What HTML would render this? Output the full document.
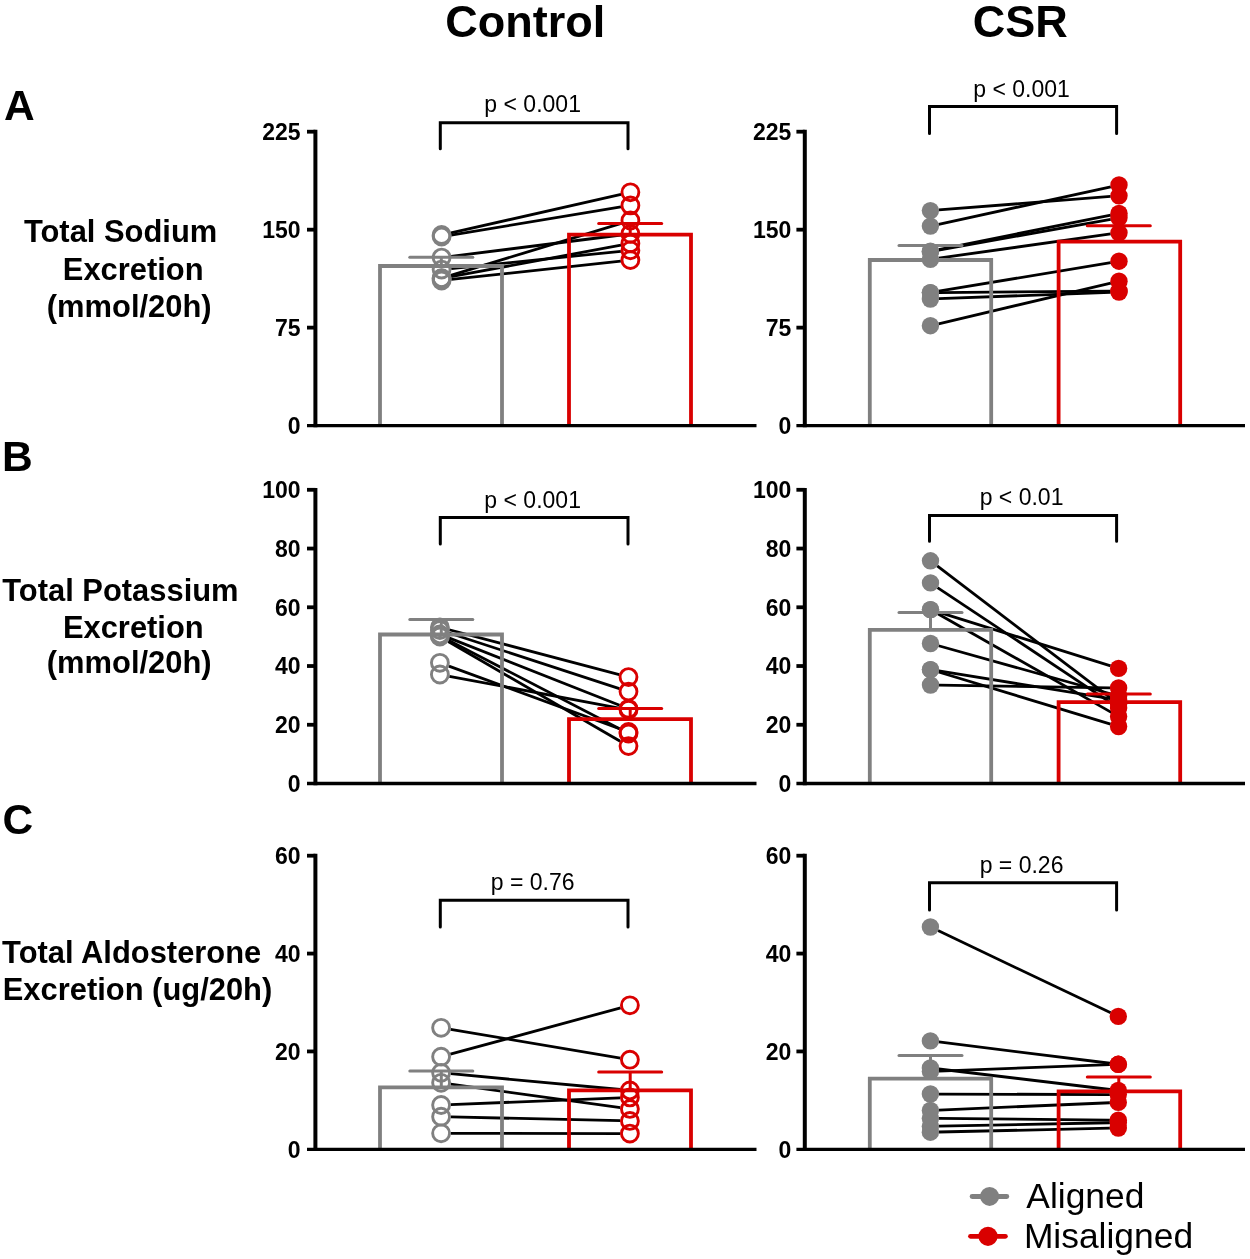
<!DOCTYPE html>
<html><head><meta charset="utf-8"><title>Excretion</title>
<style>
html,body{margin:0;padding:0;background:#fff;}
body{width:1250px;height:1259px;overflow:hidden;}
svg{display:block;font-family:"Liberation Sans", sans-serif;will-change:transform;}
</style></head>
<body>
<svg width="1250" height="1259" viewBox="0 0 1250 1259">
<rect width="1250" height="1259" fill="#fff"/>
<g fill="#000">
<line x1="450.96" y1="232.88" x2="621.04" y2="194.42" stroke="#000" stroke-width="2.8" stroke-linecap="butt"/>
<line x1="451.07" y1="235.03" x2="620.93" y2="206.97" stroke="#000" stroke-width="2.8" stroke-linecap="butt"/>
<line x1="451.12" y1="256.40" x2="620.88" y2="235.00" stroke="#000" stroke-width="2.8" stroke-linecap="butt"/>
<line x1="450.78" y1="275.39" x2="621.22" y2="223.31" stroke="#000" stroke-width="2.8" stroke-linecap="butt"/>
<line x1="451.15" y1="268.62" x2="620.85" y2="251.28" stroke="#000" stroke-width="2.8" stroke-linecap="butt"/>
<line x1="451.04" y1="276.65" x2="620.96" y2="245.15" stroke="#000" stroke-width="2.8" stroke-linecap="butt"/>
<line x1="451.14" y1="279.46" x2="620.86" y2="261.04" stroke="#000" stroke-width="2.8" stroke-linecap="butt"/>
<path d="M380.00,425.60 V266.00 H502.00 V425.60" fill="none" stroke="#808080" stroke-width="3.8" stroke-linejoin="miter"/>
<path d="M569.00,425.60 V234.60 H691.00 V425.60" fill="none" stroke="#d90000" stroke-width="3.8" stroke-linejoin="miter"/>
<line x1="441.30" y1="266.00" x2="441.30" y2="257.30" stroke="#808080" stroke-width="3.0" stroke-linecap="butt"/>
<line x1="409.80" y1="257.30" x2="472.80" y2="257.30" stroke="#808080" stroke-width="3.0" stroke-linecap="round"/>
<line x1="630.20" y1="234.60" x2="630.20" y2="223.40" stroke="#d90000" stroke-width="3.0" stroke-linecap="butt"/>
<line x1="598.70" y1="223.40" x2="661.70" y2="223.40" stroke="#d90000" stroke-width="3.0" stroke-linecap="round"/>
<circle cx="441.60" cy="235.00" r="8.45" fill="none" stroke="#808080" stroke-width="2.9"/>
<circle cx="630.40" cy="192.30" r="8.45" fill="none" stroke="#d90000" stroke-width="2.9"/>
<circle cx="441.60" cy="236.60" r="8.45" fill="none" stroke="#808080" stroke-width="2.9"/>
<circle cx="630.40" cy="205.40" r="8.45" fill="none" stroke="#d90000" stroke-width="2.9"/>
<circle cx="441.60" cy="257.60" r="8.45" fill="none" stroke="#808080" stroke-width="2.9"/>
<circle cx="630.40" cy="233.80" r="8.45" fill="none" stroke="#d90000" stroke-width="2.9"/>
<circle cx="441.60" cy="278.20" r="8.45" fill="none" stroke="#808080" stroke-width="2.9"/>
<circle cx="630.40" cy="220.50" r="8.45" fill="none" stroke="#d90000" stroke-width="2.9"/>
<circle cx="441.60" cy="269.60" r="8.45" fill="none" stroke="#808080" stroke-width="2.9"/>
<circle cx="630.40" cy="250.30" r="8.45" fill="none" stroke="#d90000" stroke-width="2.9"/>
<circle cx="441.60" cy="278.40" r="8.45" fill="none" stroke="#808080" stroke-width="2.9"/>
<circle cx="630.40" cy="243.40" r="8.45" fill="none" stroke="#d90000" stroke-width="2.9"/>
<circle cx="441.60" cy="280.50" r="8.45" fill="none" stroke="#808080" stroke-width="2.9"/>
<circle cx="630.40" cy="260.00" r="8.45" fill="none" stroke="#d90000" stroke-width="2.9"/>
<line x1="315.40" y1="129.80" x2="315.40" y2="427.25" stroke="#000" stroke-width="4.0" stroke-linecap="butt"/>
<line x1="307.00" y1="425.60" x2="756.50" y2="425.60" stroke="#000" stroke-width="3.3" stroke-linecap="butt"/>
<text x="300.60" y="433.90" font-size="23" font-weight="bold" text-anchor="end" >0</text>
<line x1="307.00" y1="327.63" x2="315.40" y2="327.63" stroke="#000" stroke-width="3.8" stroke-linecap="butt"/>
<text x="300.60" y="335.93" font-size="23" font-weight="bold" text-anchor="end" >75</text>
<line x1="307.00" y1="229.67" x2="315.40" y2="229.67" stroke="#000" stroke-width="3.8" stroke-linecap="butt"/>
<text x="300.60" y="237.97" font-size="23" font-weight="bold" text-anchor="end" >150</text>
<line x1="307.00" y1="131.70" x2="315.40" y2="131.70" stroke="#000" stroke-width="3.8" stroke-linecap="butt"/>
<text x="300.60" y="140.00" font-size="23" font-weight="bold" text-anchor="end" >225</text>
<path d="M440.30,148.80 V122.80 H628.00 V148.80" fill="none" stroke="#000" stroke-width="3.0" stroke-linecap="round" stroke-linejoin="miter"/>
<text x="532.65" y="112.40" font-size="23" font-weight="normal" text-anchor="middle" >p &lt; 0.001</text>
<line x1="938.77" y1="209.94" x2="1110.63" y2="196.46" stroke="#000" stroke-width="2.8" stroke-linecap="butt"/>
<line x1="938.61" y1="224.31" x2="1110.79" y2="186.79" stroke="#000" stroke-width="2.8" stroke-linecap="butt"/>
<line x1="938.64" y1="249.55" x2="1110.76" y2="215.05" stroke="#000" stroke-width="2.8" stroke-linecap="butt"/>
<line x1="938.67" y1="250.12" x2="1110.73" y2="219.28" stroke="#000" stroke-width="2.8" stroke-linecap="butt"/>
<line x1="938.72" y1="258.13" x2="1110.68" y2="233.97" stroke="#000" stroke-width="2.8" stroke-linecap="butt"/>
<line x1="938.69" y1="291.22" x2="1110.71" y2="262.58" stroke="#000" stroke-width="2.8" stroke-linecap="butt"/>
<line x1="938.80" y1="292.53" x2="1110.60" y2="291.07" stroke="#000" stroke-width="2.8" stroke-linecap="butt"/>
<line x1="938.79" y1="298.69" x2="1110.61" y2="292.31" stroke="#000" stroke-width="2.8" stroke-linecap="butt"/>
<line x1="938.58" y1="323.77" x2="1110.82" y2="283.13" stroke="#000" stroke-width="2.8" stroke-linecap="butt"/>
<path d="M869.80,425.60 V260.00 H991.20 V425.60" fill="none" stroke="#808080" stroke-width="3.8" stroke-linejoin="miter"/>
<path d="M1058.60,425.60 V241.70 H1180.20 V425.60" fill="none" stroke="#d90000" stroke-width="3.8" stroke-linejoin="miter"/>
<line x1="930.50" y1="260.00" x2="930.50" y2="245.60" stroke="#808080" stroke-width="3.0" stroke-linecap="butt"/>
<line x1="899.00" y1="245.60" x2="962.00" y2="245.60" stroke="#808080" stroke-width="3.0" stroke-linecap="round"/>
<line x1="1118.80" y1="241.70" x2="1118.80" y2="225.80" stroke="#d90000" stroke-width="3.0" stroke-linecap="butt"/>
<line x1="1087.30" y1="225.80" x2="1150.30" y2="225.80" stroke="#d90000" stroke-width="3.0" stroke-linecap="round"/>
<circle cx="930.40" cy="210.60" r="8.7" fill="#808080"/>
<circle cx="1119.00" cy="195.80" r="8.7" fill="#d90000"/>
<circle cx="930.40" cy="226.10" r="8.7" fill="#808080"/>
<circle cx="1119.00" cy="185.00" r="8.7" fill="#d90000"/>
<circle cx="930.40" cy="251.20" r="8.7" fill="#808080"/>
<circle cx="1119.00" cy="213.40" r="8.7" fill="#d90000"/>
<circle cx="930.40" cy="251.60" r="8.7" fill="#808080"/>
<circle cx="1119.00" cy="217.80" r="8.7" fill="#d90000"/>
<circle cx="930.40" cy="259.30" r="8.7" fill="#808080"/>
<circle cx="1119.00" cy="232.80" r="8.7" fill="#d90000"/>
<circle cx="930.40" cy="292.60" r="8.7" fill="#808080"/>
<circle cx="1119.00" cy="261.20" r="8.7" fill="#d90000"/>
<circle cx="930.40" cy="292.60" r="8.7" fill="#808080"/>
<circle cx="1119.00" cy="291.00" r="8.7" fill="#d90000"/>
<circle cx="930.40" cy="299.00" r="8.7" fill="#808080"/>
<circle cx="1119.00" cy="292.00" r="8.7" fill="#d90000"/>
<circle cx="930.40" cy="325.70" r="8.7" fill="#808080"/>
<circle cx="1119.00" cy="281.20" r="8.7" fill="#d90000"/>
<line x1="804.80" y1="129.80" x2="804.80" y2="427.25" stroke="#000" stroke-width="4.0" stroke-linecap="butt"/>
<line x1="796.40" y1="425.60" x2="1245.00" y2="425.60" stroke="#000" stroke-width="3.3" stroke-linecap="butt"/>
<text x="791.40" y="433.90" font-size="23" font-weight="bold" text-anchor="end" >0</text>
<line x1="796.40" y1="327.63" x2="804.80" y2="327.63" stroke="#000" stroke-width="3.8" stroke-linecap="butt"/>
<text x="791.40" y="335.93" font-size="23" font-weight="bold" text-anchor="end" >75</text>
<line x1="796.40" y1="229.67" x2="804.80" y2="229.67" stroke="#000" stroke-width="3.8" stroke-linecap="butt"/>
<text x="791.40" y="237.97" font-size="23" font-weight="bold" text-anchor="end" >150</text>
<line x1="796.40" y1="131.70" x2="804.80" y2="131.70" stroke="#000" stroke-width="3.8" stroke-linecap="butt"/>
<text x="791.40" y="140.00" font-size="23" font-weight="bold" text-anchor="end" >225</text>
<path d="M929.50,133.50 V106.60 H1116.60 V133.50" fill="none" stroke="#000" stroke-width="3.0" stroke-linecap="round" stroke-linejoin="miter"/>
<text x="1021.55" y="96.90" font-size="23" font-weight="normal" text-anchor="middle" >p &lt; 0.001</text>
<line x1="449.18" y1="629.75" x2="619.22" y2="674.65" stroke="#000" stroke-width="2.8" stroke-linecap="butt"/>
<line x1="449.03" y1="632.98" x2="619.37" y2="688.62" stroke="#000" stroke-width="2.8" stroke-linecap="butt"/>
<line x1="448.83" y1="637.92" x2="619.57" y2="705.28" stroke="#000" stroke-width="2.8" stroke-linecap="butt"/>
<line x1="448.42" y1="640.12" x2="619.98" y2="729.08" stroke="#000" stroke-width="2.8" stroke-linecap="butt"/>
<line x1="448.20" y1="641.42" x2="620.20" y2="741.28" stroke="#000" stroke-width="2.8" stroke-linecap="butt"/>
<line x1="448.91" y1="666.11" x2="619.49" y2="728.69" stroke="#000" stroke-width="2.8" stroke-linecap="butt"/>
<line x1="449.34" y1="676.27" x2="619.06" y2="708.03" stroke="#000" stroke-width="2.8" stroke-linecap="butt"/>
<path d="M380.00,783.50 V634.50 H502.00 V783.50" fill="none" stroke="#808080" stroke-width="3.8" stroke-linejoin="miter"/>
<path d="M569.00,783.50 V719.20 H691.00 V783.50" fill="none" stroke="#d90000" stroke-width="3.8" stroke-linejoin="miter"/>
<line x1="441.30" y1="634.50" x2="441.30" y2="619.50" stroke="#808080" stroke-width="3.0" stroke-linecap="butt"/>
<line x1="409.80" y1="619.50" x2="472.80" y2="619.50" stroke="#808080" stroke-width="3.0" stroke-linecap="round"/>
<line x1="630.20" y1="719.20" x2="630.20" y2="708.50" stroke="#d90000" stroke-width="3.0" stroke-linecap="butt"/>
<line x1="598.70" y1="708.50" x2="661.70" y2="708.50" stroke="#d90000" stroke-width="3.0" stroke-linecap="round"/>
<circle cx="439.90" cy="627.30" r="8.45" fill="none" stroke="#808080" stroke-width="2.9"/>
<circle cx="628.50" cy="677.10" r="8.45" fill="none" stroke="#d90000" stroke-width="2.9"/>
<circle cx="439.90" cy="630.00" r="8.45" fill="none" stroke="#808080" stroke-width="2.9"/>
<circle cx="628.50" cy="691.60" r="8.45" fill="none" stroke="#d90000" stroke-width="2.9"/>
<circle cx="439.90" cy="634.40" r="8.45" fill="none" stroke="#808080" stroke-width="2.9"/>
<circle cx="628.50" cy="708.80" r="8.45" fill="none" stroke="#d90000" stroke-width="2.9"/>
<circle cx="439.90" cy="635.70" r="8.45" fill="none" stroke="#808080" stroke-width="2.9"/>
<circle cx="628.50" cy="733.50" r="8.45" fill="none" stroke="#d90000" stroke-width="2.9"/>
<circle cx="439.90" cy="636.60" r="8.45" fill="none" stroke="#808080" stroke-width="2.9"/>
<circle cx="628.50" cy="746.10" r="8.45" fill="none" stroke="#d90000" stroke-width="2.9"/>
<circle cx="439.90" cy="662.80" r="8.45" fill="none" stroke="#808080" stroke-width="2.9"/>
<circle cx="628.50" cy="732.00" r="8.45" fill="none" stroke="#d90000" stroke-width="2.9"/>
<circle cx="439.90" cy="674.50" r="8.45" fill="none" stroke="#808080" stroke-width="2.9"/>
<circle cx="628.50" cy="709.80" r="8.45" fill="none" stroke="#d90000" stroke-width="2.9"/>
<line x1="315.40" y1="487.90" x2="315.40" y2="785.15" stroke="#000" stroke-width="4.0" stroke-linecap="butt"/>
<line x1="307.00" y1="783.50" x2="756.50" y2="783.50" stroke="#000" stroke-width="3.3" stroke-linecap="butt"/>
<text x="300.60" y="791.80" font-size="23" font-weight="bold" text-anchor="end" >0</text>
<line x1="307.00" y1="724.76" x2="315.40" y2="724.76" stroke="#000" stroke-width="3.8" stroke-linecap="butt"/>
<text x="300.60" y="733.06" font-size="23" font-weight="bold" text-anchor="end" >20</text>
<line x1="307.00" y1="666.02" x2="315.40" y2="666.02" stroke="#000" stroke-width="3.8" stroke-linecap="butt"/>
<text x="300.60" y="674.32" font-size="23" font-weight="bold" text-anchor="end" >40</text>
<line x1="307.00" y1="607.28" x2="315.40" y2="607.28" stroke="#000" stroke-width="3.8" stroke-linecap="butt"/>
<text x="300.60" y="615.58" font-size="23" font-weight="bold" text-anchor="end" >60</text>
<line x1="307.00" y1="548.54" x2="315.40" y2="548.54" stroke="#000" stroke-width="3.8" stroke-linecap="butt"/>
<text x="300.60" y="556.84" font-size="23" font-weight="bold" text-anchor="end" >80</text>
<line x1="307.00" y1="489.80" x2="315.40" y2="489.80" stroke="#000" stroke-width="3.8" stroke-linecap="butt"/>
<text x="300.60" y="498.10" font-size="23" font-weight="bold" text-anchor="end" >100</text>
<path d="M440.30,543.90 V517.50 H628.00 V543.90" fill="none" stroke="#000" stroke-width="3.0" stroke-linecap="round" stroke-linejoin="miter"/>
<text x="532.65" y="507.80" font-size="23" font-weight="normal" text-anchor="middle" >p &lt; 0.001</text>
<line x1="937.18" y1="565.89" x2="1111.92" y2="698.91" stroke="#000" stroke-width="2.8" stroke-linecap="butt"/>
<line x1="937.49" y1="587.55" x2="1111.61" y2="703.35" stroke="#000" stroke-width="2.8" stroke-linecap="butt"/>
<line x1="938.52" y1="612.11" x2="1110.58" y2="665.89" stroke="#000" stroke-width="2.8" stroke-linecap="butt"/>
<line x1="937.80" y1="613.75" x2="1111.30" y2="712.35" stroke="#000" stroke-width="2.8" stroke-linecap="butt"/>
<line x1="938.59" y1="645.76" x2="1110.51" y2="693.74" stroke="#000" stroke-width="2.8" stroke-linecap="butt"/>
<line x1="938.54" y1="672.03" x2="1110.56" y2="724.07" stroke="#000" stroke-width="2.8" stroke-linecap="butt"/>
<line x1="938.79" y1="670.94" x2="1110.31" y2="698.66" stroke="#000" stroke-width="2.8" stroke-linecap="butt"/>
<line x1="938.90" y1="685.13" x2="1110.20" y2="687.87" stroke="#000" stroke-width="2.8" stroke-linecap="butt"/>
<path d="M869.80,783.50 V629.90 H991.20 V783.50" fill="none" stroke="#808080" stroke-width="3.8" stroke-linejoin="miter"/>
<path d="M1058.60,783.50 V702.20 H1180.20 V783.50" fill="none" stroke="#d90000" stroke-width="3.8" stroke-linejoin="miter"/>
<line x1="930.50" y1="629.90" x2="930.50" y2="612.40" stroke="#808080" stroke-width="3.0" stroke-linecap="butt"/>
<line x1="899.00" y1="612.40" x2="962.00" y2="612.40" stroke="#808080" stroke-width="3.0" stroke-linecap="round"/>
<line x1="1118.80" y1="702.20" x2="1118.80" y2="694.00" stroke="#d90000" stroke-width="3.0" stroke-linecap="butt"/>
<line x1="1087.30" y1="694.00" x2="1150.30" y2="694.00" stroke="#d90000" stroke-width="3.0" stroke-linecap="round"/>
<circle cx="930.50" cy="560.80" r="8.7" fill="#808080"/>
<circle cx="1118.60" cy="704.00" r="8.7" fill="#d90000"/>
<circle cx="930.50" cy="582.90" r="8.7" fill="#808080"/>
<circle cx="1118.60" cy="708.00" r="8.7" fill="#d90000"/>
<circle cx="930.50" cy="609.60" r="8.7" fill="#808080"/>
<circle cx="1118.60" cy="668.40" r="8.7" fill="#d90000"/>
<circle cx="930.50" cy="609.60" r="8.7" fill="#808080"/>
<circle cx="1118.60" cy="716.50" r="8.7" fill="#d90000"/>
<circle cx="930.50" cy="643.50" r="8.7" fill="#808080"/>
<circle cx="1118.60" cy="696.00" r="8.7" fill="#d90000"/>
<circle cx="930.50" cy="669.60" r="8.7" fill="#808080"/>
<circle cx="1118.60" cy="726.50" r="8.7" fill="#d90000"/>
<circle cx="930.50" cy="669.60" r="8.7" fill="#808080"/>
<circle cx="1118.60" cy="700.00" r="8.7" fill="#d90000"/>
<circle cx="930.50" cy="685.00" r="8.7" fill="#808080"/>
<circle cx="1118.60" cy="688.00" r="8.7" fill="#d90000"/>
<line x1="804.80" y1="487.90" x2="804.80" y2="785.15" stroke="#000" stroke-width="4.0" stroke-linecap="butt"/>
<line x1="796.40" y1="783.50" x2="1245.00" y2="783.50" stroke="#000" stroke-width="3.3" stroke-linecap="butt"/>
<text x="791.40" y="791.80" font-size="23" font-weight="bold" text-anchor="end" >0</text>
<line x1="796.40" y1="724.76" x2="804.80" y2="724.76" stroke="#000" stroke-width="3.8" stroke-linecap="butt"/>
<text x="791.40" y="733.06" font-size="23" font-weight="bold" text-anchor="end" >20</text>
<line x1="796.40" y1="666.02" x2="804.80" y2="666.02" stroke="#000" stroke-width="3.8" stroke-linecap="butt"/>
<text x="791.40" y="674.32" font-size="23" font-weight="bold" text-anchor="end" >40</text>
<line x1="796.40" y1="607.28" x2="804.80" y2="607.28" stroke="#000" stroke-width="3.8" stroke-linecap="butt"/>
<text x="791.40" y="615.58" font-size="23" font-weight="bold" text-anchor="end" >60</text>
<line x1="796.40" y1="548.54" x2="804.80" y2="548.54" stroke="#000" stroke-width="3.8" stroke-linecap="butt"/>
<text x="791.40" y="556.84" font-size="23" font-weight="bold" text-anchor="end" >80</text>
<line x1="796.40" y1="489.80" x2="804.80" y2="489.80" stroke="#000" stroke-width="3.8" stroke-linecap="butt"/>
<text x="791.40" y="498.10" font-size="23" font-weight="bold" text-anchor="end" >100</text>
<path d="M929.50,541.30 V515.40 H1116.60 V541.30" fill="none" stroke="#000" stroke-width="3.0" stroke-linecap="round" stroke-linejoin="miter"/>
<text x="1021.55" y="504.80" font-size="23" font-weight="normal" text-anchor="middle" >p &lt; 0.01</text>
<line x1="450.57" y1="1029.40" x2="620.43" y2="1058.10" stroke="#000" stroke-width="2.8" stroke-linecap="butt"/>
<line x1="450.36" y1="1054.18" x2="620.64" y2="1007.82" stroke="#000" stroke-width="2.8" stroke-linecap="butt"/>
<line x1="450.66" y1="1073.69" x2="620.34" y2="1089.51" stroke="#000" stroke-width="2.8" stroke-linecap="butt"/>
<line x1="450.61" y1="1084.11" x2="620.39" y2="1107.59" stroke="#000" stroke-width="2.8" stroke-linecap="butt"/>
<line x1="450.69" y1="1104.61" x2="620.31" y2="1097.79" stroke="#000" stroke-width="2.8" stroke-linecap="butt"/>
<line x1="450.70" y1="1116.91" x2="620.30" y2="1120.69" stroke="#000" stroke-width="2.8" stroke-linecap="butt"/>
<line x1="450.70" y1="1133.32" x2="620.30" y2="1133.58" stroke="#000" stroke-width="2.8" stroke-linecap="butt"/>
<path d="M380.00,1149.30 V1087.40 H502.00 V1149.30" fill="none" stroke="#808080" stroke-width="3.8" stroke-linejoin="miter"/>
<path d="M569.00,1149.30 V1090.40 H691.00 V1149.30" fill="none" stroke="#d90000" stroke-width="3.8" stroke-linejoin="miter"/>
<line x1="441.30" y1="1087.40" x2="441.30" y2="1071.10" stroke="#808080" stroke-width="3.0" stroke-linecap="butt"/>
<line x1="409.80" y1="1071.10" x2="472.80" y2="1071.10" stroke="#808080" stroke-width="3.0" stroke-linecap="round"/>
<line x1="630.20" y1="1090.40" x2="630.20" y2="1072.00" stroke="#d90000" stroke-width="3.0" stroke-linecap="butt"/>
<line x1="598.70" y1="1072.00" x2="661.70" y2="1072.00" stroke="#d90000" stroke-width="3.0" stroke-linecap="round"/>
<circle cx="441.10" cy="1027.80" r="8.45" fill="none" stroke="#808080" stroke-width="2.9"/>
<circle cx="629.90" cy="1059.70" r="8.45" fill="none" stroke="#d90000" stroke-width="2.9"/>
<circle cx="441.10" cy="1056.70" r="8.45" fill="none" stroke="#808080" stroke-width="2.9"/>
<circle cx="629.90" cy="1005.30" r="8.45" fill="none" stroke="#d90000" stroke-width="2.9"/>
<circle cx="441.10" cy="1072.80" r="8.45" fill="none" stroke="#808080" stroke-width="2.9"/>
<circle cx="629.90" cy="1090.40" r="8.45" fill="none" stroke="#d90000" stroke-width="2.9"/>
<circle cx="441.10" cy="1082.80" r="8.45" fill="none" stroke="#808080" stroke-width="2.9"/>
<circle cx="629.90" cy="1108.90" r="8.45" fill="none" stroke="#d90000" stroke-width="2.9"/>
<circle cx="441.10" cy="1105.00" r="8.45" fill="none" stroke="#808080" stroke-width="2.9"/>
<circle cx="629.90" cy="1097.40" r="8.45" fill="none" stroke="#d90000" stroke-width="2.9"/>
<circle cx="441.10" cy="1116.70" r="8.45" fill="none" stroke="#808080" stroke-width="2.9"/>
<circle cx="629.90" cy="1120.90" r="8.45" fill="none" stroke="#d90000" stroke-width="2.9"/>
<circle cx="441.10" cy="1133.30" r="8.45" fill="none" stroke="#808080" stroke-width="2.9"/>
<circle cx="629.90" cy="1133.60" r="8.45" fill="none" stroke="#d90000" stroke-width="2.9"/>
<line x1="315.40" y1="853.80" x2="315.40" y2="1150.95" stroke="#000" stroke-width="4.0" stroke-linecap="butt"/>
<line x1="307.00" y1="1149.30" x2="756.50" y2="1149.30" stroke="#000" stroke-width="3.3" stroke-linecap="butt"/>
<text x="300.60" y="1157.60" font-size="23" font-weight="bold" text-anchor="end" >0</text>
<line x1="307.00" y1="1051.43" x2="315.40" y2="1051.43" stroke="#000" stroke-width="3.8" stroke-linecap="butt"/>
<text x="300.60" y="1059.73" font-size="23" font-weight="bold" text-anchor="end" >20</text>
<line x1="307.00" y1="953.57" x2="315.40" y2="953.57" stroke="#000" stroke-width="3.8" stroke-linecap="butt"/>
<text x="300.60" y="961.87" font-size="23" font-weight="bold" text-anchor="end" >40</text>
<line x1="307.00" y1="855.70" x2="315.40" y2="855.70" stroke="#000" stroke-width="3.8" stroke-linecap="butt"/>
<text x="300.60" y="864.00" font-size="23" font-weight="bold" text-anchor="end" >60</text>
<path d="M440.30,927.10 V900.20 H628.00 V927.10" fill="none" stroke="#000" stroke-width="3.0" stroke-linecap="round" stroke-linejoin="miter"/>
<text x="532.65" y="890.10" font-size="23" font-weight="normal" text-anchor="middle" >p = 0.76</text>
<line x1="937.99" y1="930.61" x2="1110.71" y2="1012.79" stroke="#000" stroke-width="2.8" stroke-linecap="butt"/>
<line x1="938.74" y1="1041.94" x2="1109.96" y2="1063.26" stroke="#000" stroke-width="2.8" stroke-linecap="butt"/>
<line x1="938.74" y1="1069.00" x2="1109.96" y2="1089.50" stroke="#000" stroke-width="2.8" stroke-linecap="butt"/>
<line x1="938.79" y1="1071.08" x2="1109.91" y2="1064.62" stroke="#000" stroke-width="2.8" stroke-linecap="butt"/>
<line x1="938.80" y1="1094.03" x2="1109.90" y2="1094.57" stroke="#000" stroke-width="2.8" stroke-linecap="butt"/>
<line x1="938.79" y1="1110.04" x2="1109.91" y2="1102.76" stroke="#000" stroke-width="2.8" stroke-linecap="butt"/>
<line x1="938.80" y1="1118.38" x2="1109.90" y2="1120.12" stroke="#000" stroke-width="2.8" stroke-linecap="butt"/>
<line x1="938.80" y1="1126.13" x2="1109.90" y2="1122.77" stroke="#000" stroke-width="2.8" stroke-linecap="butt"/>
<line x1="938.80" y1="1132.01" x2="1109.90" y2="1128.19" stroke="#000" stroke-width="2.8" stroke-linecap="butt"/>
<path d="M869.80,1149.30 V1078.60 H991.20 V1149.30" fill="none" stroke="#808080" stroke-width="3.8" stroke-linejoin="miter"/>
<path d="M1058.60,1149.30 V1091.40 H1180.20 V1149.30" fill="none" stroke="#d90000" stroke-width="3.8" stroke-linejoin="miter"/>
<line x1="930.50" y1="1078.60" x2="930.50" y2="1055.50" stroke="#808080" stroke-width="3.0" stroke-linecap="butt"/>
<line x1="899.00" y1="1055.50" x2="962.00" y2="1055.50" stroke="#808080" stroke-width="3.0" stroke-linecap="round"/>
<line x1="1118.80" y1="1091.40" x2="1118.80" y2="1077.10" stroke="#d90000" stroke-width="3.0" stroke-linecap="butt"/>
<line x1="1087.30" y1="1077.10" x2="1150.30" y2="1077.10" stroke="#d90000" stroke-width="3.0" stroke-linecap="round"/>
<circle cx="930.40" cy="927.00" r="8.7" fill="#808080"/>
<circle cx="1118.30" cy="1016.40" r="8.7" fill="#d90000"/>
<circle cx="930.40" cy="1040.90" r="8.7" fill="#808080"/>
<circle cx="1118.30" cy="1064.30" r="8.7" fill="#d90000"/>
<circle cx="930.40" cy="1068.00" r="8.7" fill="#808080"/>
<circle cx="1118.30" cy="1090.50" r="8.7" fill="#d90000"/>
<circle cx="930.40" cy="1071.40" r="8.7" fill="#808080"/>
<circle cx="1118.30" cy="1064.30" r="8.7" fill="#d90000"/>
<circle cx="930.40" cy="1094.00" r="8.7" fill="#808080"/>
<circle cx="1118.30" cy="1094.60" r="8.7" fill="#d90000"/>
<circle cx="930.40" cy="1110.40" r="8.7" fill="#808080"/>
<circle cx="1118.30" cy="1102.40" r="8.7" fill="#d90000"/>
<circle cx="930.40" cy="1118.30" r="8.7" fill="#808080"/>
<circle cx="1118.30" cy="1120.20" r="8.7" fill="#d90000"/>
<circle cx="930.40" cy="1126.30" r="8.7" fill="#808080"/>
<circle cx="1118.30" cy="1122.60" r="8.7" fill="#d90000"/>
<circle cx="930.40" cy="1132.20" r="8.7" fill="#808080"/>
<circle cx="1118.30" cy="1128.00" r="8.7" fill="#d90000"/>
<line x1="804.80" y1="853.80" x2="804.80" y2="1150.95" stroke="#000" stroke-width="4.0" stroke-linecap="butt"/>
<line x1="796.40" y1="1149.30" x2="1245.00" y2="1149.30" stroke="#000" stroke-width="3.3" stroke-linecap="butt"/>
<text x="791.40" y="1157.60" font-size="23" font-weight="bold" text-anchor="end" >0</text>
<line x1="796.40" y1="1051.43" x2="804.80" y2="1051.43" stroke="#000" stroke-width="3.8" stroke-linecap="butt"/>
<text x="791.40" y="1059.73" font-size="23" font-weight="bold" text-anchor="end" >20</text>
<line x1="796.40" y1="953.57" x2="804.80" y2="953.57" stroke="#000" stroke-width="3.8" stroke-linecap="butt"/>
<text x="791.40" y="961.87" font-size="23" font-weight="bold" text-anchor="end" >40</text>
<line x1="796.40" y1="855.70" x2="804.80" y2="855.70" stroke="#000" stroke-width="3.8" stroke-linecap="butt"/>
<text x="791.40" y="864.00" font-size="23" font-weight="bold" text-anchor="end" >60</text>
<path d="M929.50,910.00 V882.80 H1116.60 V910.00" fill="none" stroke="#000" stroke-width="3.0" stroke-linecap="round" stroke-linejoin="miter"/>
<text x="1021.55" y="873.00" font-size="23" font-weight="normal" text-anchor="middle" >p = 0.26</text>
<text x="525.20" y="37.20" font-size="45" font-weight="bold" text-anchor="middle" >Control</text>
<text x="1020.20" y="37.40" font-size="45" font-weight="bold" text-anchor="middle" >CSR</text>
<text x="4.00" y="120.00" font-size="42.5" font-weight="bold" text-anchor="start" >A</text>
<text x="2.00" y="470.60" font-size="42.5" font-weight="bold" text-anchor="start" >B</text>
<text x="2.50" y="834.00" font-size="42.5" font-weight="bold" text-anchor="start" >C</text>
<text x="120.60" y="242.20" font-size="30.9" font-weight="bold" text-anchor="middle" >Total Sodium</text>
<text x="133.20" y="279.70" font-size="30.9" font-weight="bold" text-anchor="middle" >Excretion</text>
<text x="129.20" y="317.00" font-size="30.9" font-weight="bold" text-anchor="middle" >(mmol/20h)</text>
<text x="120.40" y="600.60" font-size="30.9" font-weight="bold" text-anchor="middle" >Total Potassium</text>
<text x="133.30" y="638.00" font-size="30.9" font-weight="bold" text-anchor="middle" >Excretion</text>
<text x="129.20" y="673.40" font-size="30.9" font-weight="bold" text-anchor="middle" >(mmol/20h)</text>
<text x="131.70" y="962.90" font-size="30.9" font-weight="bold" text-anchor="middle" >Total Aldosterone</text>
<text x="137.50" y="1000.00" font-size="30.9" font-weight="bold" text-anchor="middle" >Excretion (ug/20h)</text>
<line x1="972.10" y1="1196.50" x2="1006.80" y2="1196.50" stroke="#808080" stroke-width="4.8" stroke-linecap="round"/>
<circle cx="989.6" cy="1196.4" r="9.5" fill="#808080"/>
<line x1="970.50" y1="1236.30" x2="1005.40" y2="1236.30" stroke="#d90000" stroke-width="4.8" stroke-linecap="round"/>
<circle cx="988.0" cy="1236.3" r="9.6" fill="#d90000"/>
<text x="1026.30" y="1208.20" font-size="35.4" font-weight="normal" text-anchor="start" >Aligned</text>
<text x="1023.90" y="1247.80" font-size="35.4" font-weight="normal" text-anchor="start" >Misaligned</text>
</g>
</svg>
</body></html>
